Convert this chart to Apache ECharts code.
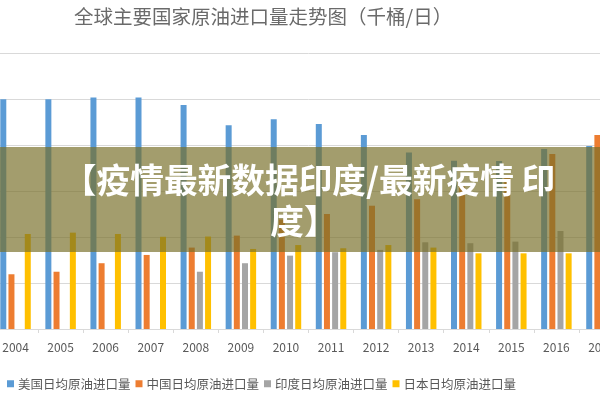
<!DOCTYPE html>
<html>
<head>
<meta charset="utf-8">
<script src="https://cdn.jsdelivr.net/npm/echarts@6/dist/echarts.min.js"></script>
<style>
html,body{margin:0;padding:0;background:#fff;overflow:hidden;width:600px;height:400px;}
#main{width:631px;height:400px;margin-left:-7px;}
</style>
</head>
<body>
<div id="main"></div>
<script>
var years = ['2004','2005','2006','2007','2008','2009','2010','2011','2012','2013','2014','2015','2016','2017'];
var seriesNames = ['美国日均原油进口量','中国日均原油进口量','印度日均原油进口量','日本日均原油进口量'];
var usa   = [9990, 9990, 10060, 10060, 9740, 8860, 9120, 8910, 8440, 7670, 7310, 7300, 7830, 7960];
var china = [2380, 2490, 2860, 3220, 3540, 4060, 4760, 5000, 5360, 5640, 6200, 6700, 7610, 8440];
var india = [null, null, null, null, 2490, 2860, 3190, 3340, 3440, 3770, 3730, 3800, 4260, 4400];
var japan = [4130, 4190, 4130, 4010, 4020, 3480, 3650, 3510, 3650, 3540, 3290, 3290, 3290, 3200];
var colors = ['#5b9bd5','#ed7d31','#a5a5a5','#ffc000'];
var titleText = '全球主要国家原油进口量走势图（千桶/日）';
var bannerLine1 = '【疫情最新数据印度/最新疫情 印';
var bannerLine2 = '度】';

var OFF = 7; // div is shifted left by this many px
var FONT = '"Noto Sans CJK SC", "Noto Sans", sans-serif';
var chart = echarts.init(document.getElementById('main'));
var dataSets = [usa, china, india, japan];
var series = dataSets.map(function(d, i){
  return {
    name: seriesNames[i],
    type: 'bar',
    data: d,
    barWidth: 6,
    barGap: '36%',
    itemStyle: {color: colors[i]},
    emphasis: {disabled: true}
  };
});
chart.setOption({
  animation: false,
  color: colors,
  textStyle: {fontFamily: FONT},
  title: {
    text: titleText,
    left: 74 + OFF,
    top: 7,
    padding: 0,
    textStyle: {fontFamily: FONT, fontSize: 19.5, fontWeight: 'normal', color: '#6a6a6a'}
  },
  legend: {
    left: 7 + OFF,
    top: 377.5,
    padding: 0,
    itemWidth: 7,
    itemHeight: 7,
    itemGap: 5,
    icon: 'rect',
    textStyle: {fontFamily: FONT, fontSize: 12.5, color: '#595959', padding: [0,0,0,-1]},
    data: seriesNames
  },
  grid: {left: 0, right: 0, top: 53, bottom: 71, containLabel: false},
  xAxis: {
    type: 'category',
    data: years,
    axisLine: {lineStyle: {color: '#d9d9d9'}},
    axisTick: {show: true, length: 4, lineStyle: {color: '#d9d9d9'}},
    axisLabel: {color: '#595959', fontSize: 12, margin: 12, fontFamily: FONT}
  },
  yAxis: {
    type: 'value',
    min: 0, max: 12000, interval: 2000,
    axisLabel: {show: false},
    axisLine: {show: false},
    axisTick: {show: false},
    splitLine: {lineStyle: {color: '#d9d9d9'}}
  },
  series: series,
  graphic: [
    {type: 'rect', z: 100, shape: {x: OFF, y: 147, width: 600, height: 105},
     style: {fill: 'rgba(120,110,40,0.68)'}},
    {type: 'text', z: 101, x: 309 + OFF, y: 180,
     style: {text: bannerLine1, fill: '#ffffff', font: 'bold 33.7px ' + FONT, textAlign: 'center', textVerticalAlign: 'middle'}},
    {type: 'text', z: 101, x: 304 + OFF, y: 221,
     style: {text: bannerLine2, fill: '#ffffff', font: 'bold 33.7px ' + FONT, textAlign: 'center', textVerticalAlign: 'middle'}}
  ]
});
</script>
</body>
</html>
